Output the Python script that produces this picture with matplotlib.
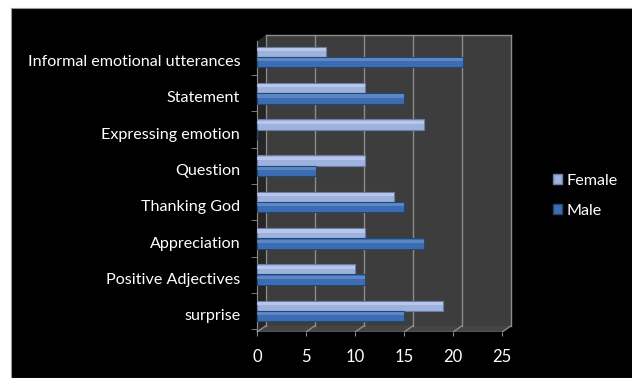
import numpy as np
import matplotlib.pyplot as plt
from matplotlib.patches import Polygon, Patch, Rectangle

# datos (de abajo hacia arriba)
categorias = ["surprise", "Positive Adjectives", "Appreciation", "Thanking God",
              "Question", "Expressing emotion", "Statement",
              "Informal emotional utterances"]
female = [19, 10, 11, 14, 11, 17, 11, 7]
male = [15, 11, 17, 15, 6, 0, 15, 21]
xticks = [0, 5, 10, 15, 20, 25]

plt.rcParams['font.family'] = ['Lato', 'DejaVu Sans']

W, H = 632, 378
fig = plt.figure(figsize=(W/100, H/100), dpi=100, facecolor='white')
# fondo negro del gráfico, con un margen blanco arriba y a la izquierda
fig.patches.append(Rectangle((11/W, 0), 1, 1 - 8/H, transform=fig.transFigure,
                             fc='black', ec='#9a9a9a', lw=0.8, zorder=-5))

ax = fig.add_axes([251/W, 0.1217, 263/W, 0.790])
ax.set_facecolor('black')
ax.patch.set_alpha(0)

# pared de fondo y suelo (efecto 3D tipo Excel)
dx, dy = 0.9, 0.17
y0, ytop = -0.58, 7.6
ax.add_patch(Polygon([(dx, y0+dy), (25+dx, y0+dy), (25+dx, ytop), (dx, ytop)],
                     closed=True, fc='#3d3d3d', ec='none', zorder=0))
ax.add_patch(Polygon([(0, y0), (25, y0), (25+dx, y0+dy), (dx, y0+dy)],
                     closed=True, fc='#454545', ec='none', zorder=0))
ax.add_patch(Polygon([(0, y0), (dx, y0+dy), (dx, ytop), (0, ytop-dy)],
                     closed=True, fc='#262626', ec='none', zorder=0))
for v in xticks:
    ax.plot([v+dx, v+dx], [y0+dy, ytop], color='#8c8c8c', lw=1, zorder=1)
    ax.plot([v, v+dx], [y0, y0+dy], color='#8c8c8c', lw=1, zorder=1)
ax.plot([dx, 25+dx], [ytop, ytop], color='#8c8c8c', lw=1, zorder=1)
ax.plot([0, 25], [y0, y0], color='#8c8c8c', lw=1, zorder=1)

# barras
pos = np.arange(len(categorias))
h = 0.29
off = 0.14
ax.barh(pos + off, female, height=h, color='#9db2df', edgecolor='#6a7ea8',
        linewidth=0.8, zorder=3, label='Female')
ax.barh(pos - off, male, height=h, color='#3c6db3', edgecolor='#24476f',
        linewidth=0.8, zorder=3, label='Male')
# brillo superior
ax.barh(pos + off + h*0.22, female, height=h*0.3, color='#c4d1ee',
        linewidth=0, zorder=4, alpha=0.7)
ax.barh(pos - off + h*0.22, male, height=h*0.3, color='#6a93cf',
        linewidth=0, zorder=4, alpha=0.7)

ax.set_xlim(-0.6, 26.2)
ax.set_ylim(y0, 7.65)

# ejes (posición del eje antes de los ticks, si no se pierden los estilos)
for s in ['top', 'right', 'bottom']:
    ax.spines[s].set_visible(False)
ax.spines['left'].set_position(('data', 0))
ax.spines['left'].set_color('#8c8c8c')
ax.spines['left'].set_bounds(y0, ytop - dy)

ax.set_yticks(pos - 0.1)
ax.set_yticklabels(categorias, fontsize=11.6)
ax.set_yticks(np.arange(-0.5, 7.5, 1), minor=True)
ax.tick_params(axis='y', which='major', length=0, pad=12, labelcolor='white')
ax.tick_params(axis='y', which='minor', length=4, color='#8c8c8c', direction='out')
ax.set_xticks(xticks)
ax.set_xticklabels([str(v) for v in xticks], fontsize=12)
ax.tick_params(axis='x', length=3, color='#8c8c8c', pad=9, labelcolor='white')

fig.legend(handles=[Patch(fc='#9db2df', ec='#6a7ea8', label='Female'),
                    Patch(fc='#3c6db3', ec='#24476f', label='Male')],
           loc='center left', bbox_to_anchor=(538/W, 1 - 196/H),
           frameon=False, labelcolor='white', fontsize=11.6,
           handlelength=0.6, handleheight=0.6, handletextpad=0.3,
           labelspacing=1.0)

fig.savefig('out.png', dpi=100, facecolor='white')
